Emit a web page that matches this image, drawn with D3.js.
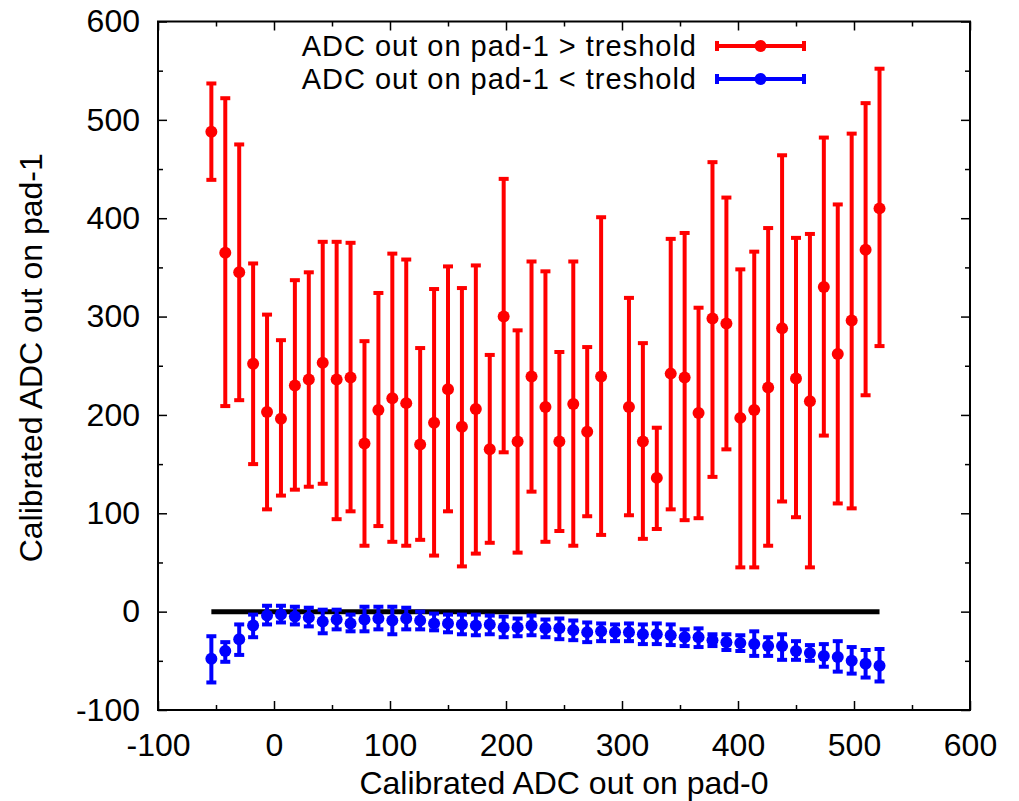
<!DOCTYPE html>
<html>
<head>
<meta charset="utf-8">
<script src="https://cdn.jsdelivr.net/npm/d3@7"></script>
<style>
  html, body { margin: 0; padding: 0; background: #fff; }
  svg { display: block; }
  text { font-family: "Liberation Sans", Arial, Helvetica, sans-serif; }
</style>
</head>
<body>
<svg id="chart" width="1019" height="801"></svg>
<script>
// Bin centres of pad-0 calibrated ADC
const binCentres = [-54, -42, -30, -18, -6, 6, 18, 30, 42, 54, 66, 78, 90, 102, 114, 126,
  138, 150, 162, 174, 186, 198, 210, 222, 234, 246, 258, 270, 282, 294, 306, 318, 330,
  342, 354, 366, 378, 390, 402, 414, 426, 438, 450, 462, 474, 486, 498, 510, 522];

// pad-1 above threshold: mean, lower and upper error limits (null = empty bin)
const aboveMean = [488, 365, 345, 252, 203, 196, 230, 236, 253, 236, 238, 171, 205, 217, 212, 170,
  192, 226, 188, 206, 165, 300, 173, 239, 208, 173, 211, 183, 239, null, 208, 173, 136,
  242, 238, 202, 298, 293, 197, 205, 228, 288, 237, 214, 330, 262, 296, 368, 410];
const aboveLow = [439, 209, 215, 150, 104, 118, 124, 127, 130, 94, 102, 67, 87, 71, 67, 73,
  57, 102, 46, 59, 70, 162, 60, 122, 71, 82, 67, 97, 78, null, 98, 74, 84,
  104, 93, 95, 137, 165, 45, 45, 67, 112, 96, 45, 179, 110, 105, 220, 270];
const aboveHigh = [537, 522, 475, 354, 302, 276, 337, 345, 376, 376, 375, 275, 324, 364, 358, 268,
  328, 351, 329, 352, 261, 440, 286, 356, 346, 264, 356, 269, 401, null, 319, 273, 187,
  379, 385, 309, 457, 421, 348, 366, 390, 464, 380, 384, 482, 414, 486, 517, 552];

// pad-1 below threshold: mean, lower and upper error limits
const belowMean = [-48, -40, -28, -14, -4, -3, -5, -6, -10, -8, -12, -8, -7, -9, -7, -9,
  -12, -12, -13, -14, -13, -16, -16, -14, -17, -17, -19, -21, -20, -21, -21, -23, -23,
  -24, -26, -26, -29, -31, -32, -33, -35, -35, -40, -42, -45, -46, -50, -53, -55];
const belowLow = [-72, -51, -44, -26, -13, -11, -13, -15, -22, -18, -20, -20, -18, -23, -18, -18,
  -19, -21, -23, -24, -23, -26, -25, -24, -26, -28, -29, -31, -30, -30, -30, -33, -33,
  -34, -35, -36, -35, -39, -40, -45, -45, -49, -49, -50, -56, -61, -63, -67, -71];
const belowHigh = [-25, -31, -13, -3, 6, 6, 5, 4, 2, 2, -3, 5, 5, 5, 4, 0,
  -2, -3, -3, -3, -4, -5, -7, -4, -8, -7, -9, -11, -12, -13, -12, -13, -12,
  -13, -18, -17, -23, -23, -24, -20, -26, -23, -30, -34, -33, -30, -36, -39, -38];

const xTicks = [-100, 0, 100, 200, 300, 400, 500, 600];
const yTicks = [-100, 0, 100, 200, 300, 400, 500, 600];
const xMinor = [-50, 50, 150, 250, 350, 450, 550];
const yMinor = [-50, 50, 150, 250, 350, 450, 550];

const seriesNames = ["ADC out on pad-1 > treshold", "ADC out on pad-1 < treshold"];
const seriesColours = ["#ff0000", "#0000ff"];
const xTitle = "Calibrated ADC out on pad-0";
const yTitle = "Calibrated ADC out on pad-1";

const svg = d3.select("#chart");
const W = 1019, H = 801;
const plot = { left: 158, right: 970, top: 21.5, bottom: 710 };

svg.append("rect").attr("width", W).attr("height", H).attr("fill", "#fff");

const x = d3.scaleLinear().domain([-100, 600]).range([plot.left, plot.right]);
const y = d3.scaleLinear().domain([-100, 600]).range([plot.bottom, plot.top]);

const FS = 32;
const plainNumber = d => String(d);   // keeps an ASCII hyphen for negatives

function styleAxis(g) {
  g.select(".domain").remove();
  g.selectAll(".tick line").attr("stroke", "#000").attr("stroke-width", 1.5);
  g.selectAll(".tick text").attr("font-size", FS).attr("fill", "#000")
    .attr("font-family", '"Liberation Sans", Arial, sans-serif');
}

// bottom axis with labels, ticks pointing into the plot
svg.append("g").attr("transform", `translate(0,${plot.bottom})`)
  .call(d3.axisBottom(x).tickValues(xTicks).tickFormat(plainNumber)
    .tickSizeInner(-9).tickSizeOuter(0).tickPadding(23))
  .call(styleAxis);
svg.append("g").attr("transform", `translate(0,${plot.bottom})`)
  .call(d3.axisBottom(x).tickValues(xMinor).tickFormat("").tickSizeInner(-5).tickSizeOuter(0))
  .call(styleAxis);
// top mirror
svg.append("g").attr("transform", `translate(0,${plot.top})`)
  .call(d3.axisTop(x).tickValues(xTicks).tickFormat("").tickSizeInner(-9).tickSizeOuter(0))
  .call(styleAxis);
svg.append("g").attr("transform", `translate(0,${plot.top})`)
  .call(d3.axisTop(x).tickValues(xMinor).tickFormat("").tickSizeInner(-5).tickSizeOuter(0))
  .call(styleAxis);

// left axis with labels
svg.append("g").attr("transform", `translate(${plot.left},0)`)
  .call(d3.axisLeft(y).tickValues(yTicks).tickFormat(plainNumber)
    .tickSizeInner(-9).tickSizeOuter(0).tickPadding(18))
  .call(styleAxis);
svg.append("g").attr("transform", `translate(${plot.left},0)`)
  .call(d3.axisLeft(y).tickValues(yMinor).tickFormat("").tickSizeInner(-5).tickSizeOuter(0))
  .call(styleAxis);
// right mirror
svg.append("g").attr("transform", `translate(${plot.right},0)`)
  .call(d3.axisRight(y).tickValues(yTicks).tickFormat("").tickSizeInner(-9).tickSizeOuter(0))
  .call(styleAxis);
svg.append("g").attr("transform", `translate(${plot.right},0)`)
  .call(d3.axisRight(y).tickValues(yMinor).tickFormat("").tickSizeInner(-5).tickSizeOuter(0))
  .call(styleAxis);

// frame
svg.append("rect")
  .attr("x", plot.left).attr("y", plot.top)
  .attr("width", plot.right - plot.left).attr("height", plot.bottom - plot.top)
  .attr("fill", "none").attr("stroke", "#000").attr("stroke-width", 2);

// zero reference line across the data range
svg.append("line")
  .attr("x1", x(d3.min(binCentres))).attr("x2", x(d3.max(binCentres)))
  .attr("y1", y(0)).attr("y2", y(0))
  .attr("stroke", "#000").attr("stroke-width", 5);

const CAP = 5, R = 6, LW = 4;

function drawErrorSeries(mean, low, high, colour) {
  const pts = binCentres.map((c, i) => ({ x: c, m: mean[i], lo: low[i], hi: high[i] }))
    .filter(d => d.m !== null);
  const g = svg.append("g");
  g.selectAll("line.bar").data(pts).enter().append("line")
    .attr("x1", d => x(d.x)).attr("x2", d => x(d.x))
    .attr("y1", d => y(d.lo)).attr("y2", d => y(d.hi))
    .attr("stroke", colour).attr("stroke-width", LW);
  g.selectAll("line.capHi").data(pts).enter().append("line")
    .attr("x1", d => x(d.x) - CAP).attr("x2", d => x(d.x) + CAP)
    .attr("y1", d => y(d.hi)).attr("y2", d => y(d.hi))
    .attr("stroke", colour).attr("stroke-width", LW);
  g.selectAll("line.capLo").data(pts).enter().append("line")
    .attr("x1", d => x(d.x) - CAP).attr("x2", d => x(d.x) + CAP)
    .attr("y1", d => y(d.lo)).attr("y2", d => y(d.lo))
    .attr("stroke", colour).attr("stroke-width", LW);
  g.selectAll("circle").data(pts).enter().append("circle")
    .attr("cx", d => x(d.x)).attr("cy", d => y(d.m)).attr("r", R)
    .attr("fill", colour);
}

drawErrorSeries(aboveMean, aboveLow, aboveHigh, seriesColours[0]);
drawErrorSeries(belowMean, belowLow, belowHigh, seriesColours[1]);

// legend
const legend = svg.append("g");
const legRows = [46, 79];
const LFS = 29;
seriesNames.forEach((name, i) => {
  const ly = legRows[i];
  legend.append("text").attr("x", 697).attr("y", ly + 10)
    .attr("text-anchor", "end").attr("font-size", LFS).attr("letter-spacing", 1)
    .attr("fill", "#000").text(name);
  const x0 = 717, x1 = 804, xc = (x0 + x1) / 2;
  legend.append("line").attr("x1", x0).attr("x2", x1).attr("y1", ly).attr("y2", ly)
    .attr("stroke", seriesColours[i]).attr("stroke-width", LW);
  [x0, x1].forEach(xe => legend.append("line").attr("x1", xe).attr("x2", xe)
    .attr("y1", ly - CAP).attr("y2", ly + CAP)
    .attr("stroke", seriesColours[i]).attr("stroke-width", LW));
  legend.append("circle").attr("cx", xc).attr("cy", ly).attr("r", R).attr("fill", seriesColours[i]);
});

// axis titles
svg.append("text").attr("x", (plot.left + plot.right) / 2).attr("y", 794)
  .attr("text-anchor", "middle").attr("font-size", FS).attr("fill", "#000").text(xTitle);
svg.append("text")
  .attr("transform", `translate(42,${(plot.top + plot.bottom) / 2 - 8}) rotate(-90)`)
  .attr("text-anchor", "middle").attr("font-size", FS).attr("fill", "#000").text(yTitle);
</script>
</body>
</html>
